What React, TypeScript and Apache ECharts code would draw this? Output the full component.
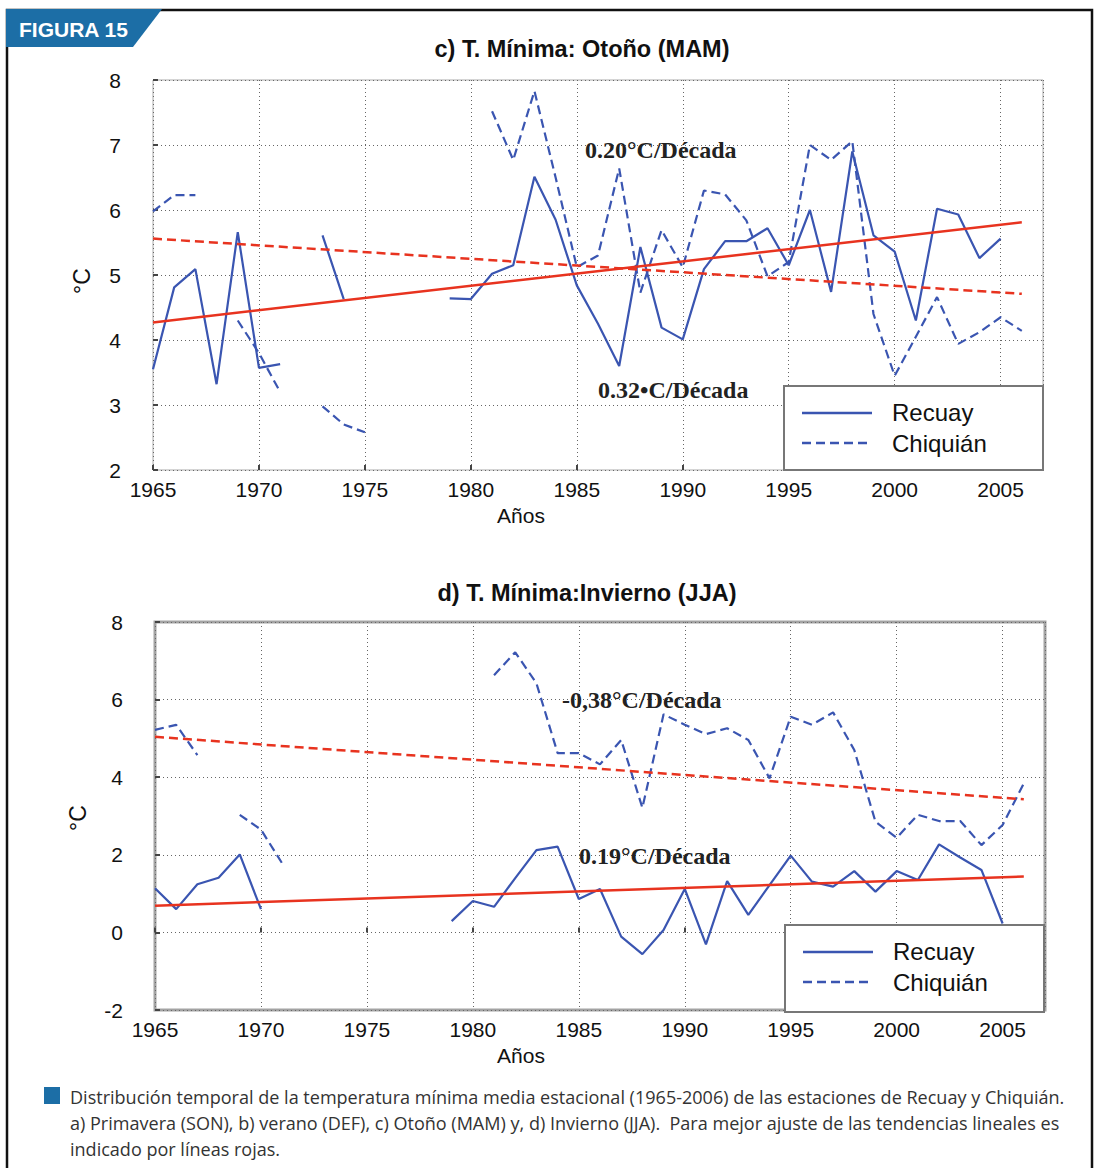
import React, { useEffect, useRef } from "react";
import * as echarts from "echarts";

const years = [
  1965, 1966, 1967, 1968, 1969, 1970, 1971, 1972, 1973, 1974,
  1975, 1976, 1977, 1978, 1979, 1980, 1981, 1982, 1983, 1984,
  1985, 1986, 1987, 1988, 1989, 1990, 1991, 1992, 1993, 1994,
  1995, 1996, 1997, 1998, 1999, 2000, 2001, 2002, 2003, 2004,
  2005, 2006,
];

// c) Otoño (MAM)
const recuayMAM = [
  3.55, 4.81, 5.09, 3.32, 5.66, 3.57, 3.63, null, 5.61, 4.63,
  null, null, null, null, 4.64, 4.63, 5.02, 5.15, 6.51, 5.85,
  4.84, 4.25, 3.6, 5.43, 4.19, 4.01, 5.09, 5.52, 5.52, 5.72,
  5.15, 6.0, 4.74, 6.9, 5.61, 5.36, 4.3, 6.02, 5.93, 5.26,
  5.56, null,
];
const chiquianMAM = [
  5.98, 6.23, 6.23, null, 4.3, 3.8, 3.2, null, 2.98, 2.7,
  2.58, null, null, null, null, null, 7.52, 6.77, 7.83, 6.5,
  5.12, 5.3, 6.64, 4.73, 5.69, 5.12, 6.3, 6.24, 5.84, 4.98,
  5.2, 7.0, 6.77, 7.06, 4.4, 3.45, 4.05, 4.66, 3.94, 4.12,
  4.35, 4.14,
];

// d) Invierno (JJA)
const recuayJJA = [
  1.14, 0.6, 1.24, 1.41, 2.01, 0.6, null, null, null, null,
  null, null, null, null, 0.29, 0.81, 0.66, 1.4, 2.12, 2.21,
  0.86, 1.12, -0.11, -0.56, 0.06, 1.12, -0.31, 1.32, 0.45, 1.22,
  1.98, 1.31, 1.18, 1.58, 1.05, 1.58, 1.35, 2.27, 1.93, 1.61,
  0.23, null,
];
const chiquianJJA = [
  5.22, 5.35, 4.57, null, 3.03, 2.65, 1.78, null, null, null,
  null, null, null, null, null, null, 6.63, 7.22, 6.42, 4.62,
  4.62, 4.33, 4.96, 3.21, 5.62, 5.35, 5.11, 5.26, 4.96, 3.97,
  5.56, 5.35, 5.67, 4.7, 2.85, 2.44, 3.03, 2.87, 2.87, 2.25,
  2.77, 3.84,
];

// trend lines (start/end years and values)
const trendYears = [1965, 2006];
const trendRecuayMAM = [4.27, 5.81];
const trendChiquianMAM = [5.56, 4.71];
const trendRecuayJJA = [0.69, 1.44];
const trendChiquianJJA = [5.04, 3.43];

const titleMAM = "c) T. Mínima: Otoño (MAM)";
const titleJJA = "d) T. Mínima:Invierno (JJA)";
const seriesNames = ["Recuay", "Chiquián"];
const trendLabelsMAM = ["0.20°C/Década", "0.32•C/Década"];
const trendLabelsJJA = ["-0,38°C/Década", "0.19°C/Década"];
const captionLines = [
  "Distribución temporal de la temperatura mínima media estacional (1965-2006) de las estaciones de Recuay y Chiquián.",
  "a) Primavera (SON), b) verano (DEF), c) Otoño (MAM) y, d) Invierno (JJA).  Para mejor ajuste de las tendencias lineales es",
  "indicado por líneas rojas.",
];

const BLUE = "#3a55b1";
const RED = "#e8331f";
const SANS = "Liberation Sans, Arial, sans-serif";
const SERIF = "Liberation Serif, Times New Roman, serif";

const pairs = (vals: (number | null)[], xs: number[] = years) =>
  vals.map((v, i) => [xs[i], v]);

function xAxisCfg(gridIndex: number) {
  return {
    type: "value",
    gridIndex,
    min: 1965,
    max: 2007,
    interval: 5,
    axisLine: { show: false },
    axisTick: { show: true, inside: true, length: 5, lineStyle: { color: "#444", width: 2 } },
    axisLabel: {
      show: true,
      showMaxLabel: false,
      formatter: (v: number) => String(v),
      color: "#111",
      fontSize: 21,
      fontFamily: SANS,
      margin: 9,
    },
    splitLine: { show: true, lineStyle: { color: "#666", type: [1, 3], width: 1 } },
  };
}

function yAxisCfg(gridIndex: number, min: number, max: number, interval: number) {
  return {
    type: "value",
    gridIndex,
    min,
    max,
    interval,
    axisLine: { show: false },
    axisTick: { show: true, inside: true, length: 5, lineStyle: { color: "#444", width: 2 } },
    axisLabel: { color: "#111", fontSize: 21, fontFamily: SANS, margin: 32 },
    splitLine: { show: true, lineStyle: { color: "#666", type: [1, 3], width: 1 } },
  };
}

function lineSeries(name: string, data: any[], idx: number, color: string, dashed: boolean, width: number, z: number) {
  return {
    type: "line",
    name,
    xAxisIndex: idx,
    yAxisIndex: idx,
    data,
    showSymbol: false,
    symbol: "none",
    connectNulls: false,
    lineStyle: { color, width, type: dashed ? [9, 5] : "solid" },
    z,
    silent: true,
  };
}

function legendGroup(x: number, y: number, w: number, h: number) {
  return {
    type: "group",
    z: 100,
    children: [
      { type: "rect", shape: { x, y, width: w, height: h }, style: { fill: "#fff", stroke: "#777", lineWidth: 2 }, z: 100 },
      { type: "line", shape: { x1: x + 18, y1: y + 27, x2: x + 88, y2: y + 27 }, style: { stroke: BLUE, lineWidth: 2.5 }, z: 101 },
      { type: "line", shape: { x1: x + 18, y1: y + 57, x2: x + 88, y2: y + 57 }, style: { stroke: BLUE, lineWidth: 2.5, lineDash: [9, 5] }, z: 101 },
      { type: "text", x: x + 108, y: y + 26, style: { text: seriesNames[0], fontSize: 24, fontFamily: SANS, fill: "#111", textVerticalAlign: "middle" }, z: 101 },
      { type: "text", x: x + 108, y: y + 57, style: { text: seriesNames[1], fontSize: 24, fontFamily: SANS, fill: "#111", textVerticalAlign: "middle" }, z: 101 },
    ],
  };
}

const capStyle = { fontSize: 19, fontFamily: "Open Sans, sans-serif", fill: "#333", textVerticalAlign: "middle" };

export default function App() {
  const ref = useRef<HTMLDivElement>(null);
  useEffect(() => {
    if (!ref.current) return;
    const chart = echarts.init(ref.current, null, { renderer: "svg" });
    const option: any = {
      animation: false,
      backgroundColor: "#fff",
      grid: [
        { left: 153, top: 80, width: 890, height: 390, show: true, borderColor: "#aaa", borderWidth: 1, backgroundColor: "transparent" },
        { left: 155, top: 622, width: 890, height: 388, show: true, borderColor: "#a3a3a3", borderWidth: 3, backgroundColor: "transparent" },
      ],
      xAxis: [xAxisCfg(0), xAxisCfg(1)],
      yAxis: [yAxisCfg(0, 2, 8, 1), yAxisCfg(1, -2, 8, 2)],
      series: [
        lineSeries(seriesNames[0], pairs(recuayMAM), 0, BLUE, false, 2.2, 3),
        lineSeries(seriesNames[1], pairs(chiquianMAM), 0, BLUE, true, 2.2, 3),
        lineSeries("trend Recuay MAM", pairs(trendRecuayMAM, trendYears), 0, RED, false, 2.5, 4),
        lineSeries("trend Chiquián MAM", pairs(trendChiquianMAM, trendYears), 0, RED, true, 2.5, 4),
        lineSeries(seriesNames[0], pairs(recuayJJA), 1, BLUE, false, 2.2, 3),
        lineSeries(seriesNames[1], pairs(chiquianJJA), 1, BLUE, true, 2.2, 3),
        lineSeries("trend Recuay JJA", pairs(trendRecuayJJA, trendYears), 1, RED, false, 2.5, 4),
        lineSeries("trend Chiquián JJA", pairs(trendChiquianJJA, trendYears), 1, RED, true, 2.5, 4),
      ],
      graphic: [
        // frame
        { type: "rect", shape: { x: 7, y: 10, width: 1085, height: 1175 }, style: { fill: "none", stroke: "#111", lineWidth: 2.5 }, z: 50 },
        { type: "polygon", shape: { points: [[6, 9], [162, 9], [133, 47], [6, 47]] }, style: { fill: "#1c6ea6" }, z: 51 },
        { type: "text", x: 19, y: 29, style: { text: "FIGURA 15", fill: "#fff", fontSize: 21, fontWeight: "bold", fontFamily: SANS, textVerticalAlign: "middle" }, z: 52 },
        // titles
        { type: "text", x: 582, y: 49, style: { text: titleMAM, fontSize: 23.5, fontWeight: "bold", fontFamily: SANS, fill: "#111", textAlign: "center", textVerticalAlign: "middle" } },
        { type: "text", x: 587, y: 593, style: { text: titleJJA, fontSize: 23.5, fontWeight: "bold", fontFamily: SANS, fill: "#111", textAlign: "center", textVerticalAlign: "middle" } },
        // axis names
        { type: "text", x: 521, y: 515, style: { text: "Años", fontSize: 21, fontFamily: SANS, fill: "#111", textAlign: "center", textVerticalAlign: "middle" } },
        { type: "text", x: 521, y: 1055, style: { text: "Años", fontSize: 21, fontFamily: SANS, fill: "#111", textAlign: "center", textVerticalAlign: "middle" } },
        { type: "text", x: 82, y: 281, rotation: Math.PI / 2, style: { text: "°C", fontSize: 23, fontFamily: SANS, fill: "#111", textAlign: "center", textVerticalAlign: "middle" } },
        { type: "text", x: 78, y: 818, rotation: Math.PI / 2, style: { text: "°C", fontSize: 23, fontFamily: SANS, fill: "#111", textAlign: "center", textVerticalAlign: "middle" } },
        // trend annotations
        { type: "text", x: 585, y: 150, z: 20, style: { text: trendLabelsMAM[0], fontSize: 24, fontWeight: "bold", fontFamily: SERIF, fill: "#222", textVerticalAlign: "middle" } },
        { type: "text", x: 598, y: 390, z: 20, style: { text: trendLabelsMAM[1], fontSize: 24, fontWeight: "bold", fontFamily: SERIF, fill: "#222", textVerticalAlign: "middle" } },
        { type: "text", x: 562, y: 700, z: 20, style: { text: trendLabelsJJA[0], fontSize: 24, fontWeight: "bold", fontFamily: SERIF, fill: "#222", textVerticalAlign: "middle" } },
        { type: "text", x: 579, y: 856, z: 20, style: { text: trendLabelsJJA[1], fontSize: 24, fontWeight: "bold", fontFamily: SERIF, fill: "#222", textVerticalAlign: "middle" } },
        // legends
        legendGroup(784, 386, 259, 84),
        legendGroup(785, 925, 259, 87),
        // caption
        { type: "rect", shape: { x: 44, y: 1087, width: 16, height: 17 }, style: { fill: "#1c6ea6" } },
        { type: "text", x: 70, y: 1096, scaleX: 0.95, style: { text: captionLines[0], ...capStyle } },
        { type: "text", x: 70, y: 1122, scaleX: 0.95, style: { text: captionLines[1], ...capStyle } },
        { type: "text", x: 70, y: 1148, scaleX: 0.95, style: { text: captionLines[2], ...capStyle } },
      ],
    };
    chart.setOption(option);
    return () => chart.dispose();
  }, []);
  return (
    <div
      ref={ref}
      style={{ position: "absolute", left: 0, top: 0, width: 1096, height: 1168, background: "#fff" }}
    />
  );
}
